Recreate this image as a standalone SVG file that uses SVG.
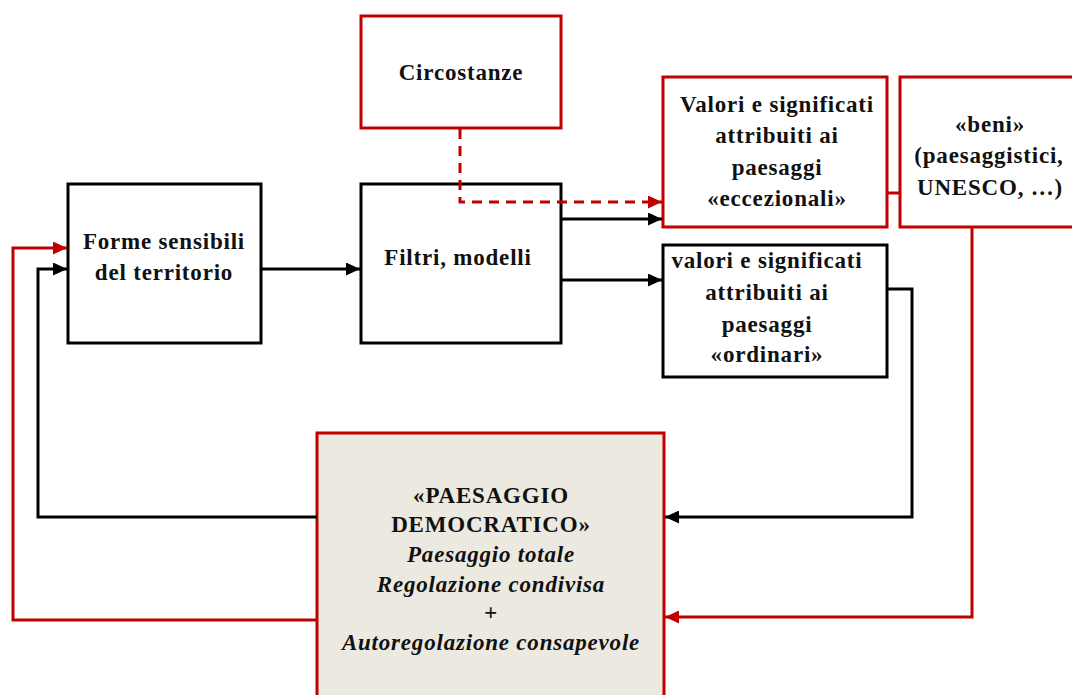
<svg xmlns="http://www.w3.org/2000/svg" width="1072" height="695" viewBox="0 0 1072 695">
<defs>
<marker id="ab" viewBox="0 0 14 13" refX="14" refY="6.5" markerWidth="14" markerHeight="13" markerUnits="userSpaceOnUse" orient="auto"><path d="M0,0 L14,6.5 L0,13 Z" fill="#000"/></marker>
<marker id="ar" viewBox="0 0 14 13" refX="14" refY="6.5" markerWidth="14" markerHeight="13" markerUnits="userSpaceOnUse" orient="auto"><path d="M0,0 L14,6.5 L0,13 Z" fill="#C00000"/></marker>
</defs>
<style>
.bk{fill:#fff;stroke:#000;stroke-width:3}
.rd{fill:#fff;stroke:#C00000;stroke-width:3}
.t{font-family:"Liberation Serif",serif;font-weight:bold;font-size:23px;letter-spacing:0.8px;fill:#111;text-anchor:middle}
.i{font-style:italic}
.cb{fill:none;stroke:#000;stroke-width:3}
.cr{fill:none;stroke:#C00000;stroke-width:3}
</style>
<g id="forme">
<rect class="bk" x="68" y="184" width="193" height="159"/>
<text class="t" x="164" y="249">Forme sensibili</text>
<text class="t" x="164" y="280">del territorio</text>
</g>
<g id="circostanze">
<rect class="rd" x="361" y="16" width="200" height="112"/>
<text class="t" x="461" y="80">Circostanze</text>
</g>
<g id="filtri">
<rect class="bk" x="361" y="184" width="200" height="159"/>
<text class="t" x="458" y="265">Filtri, modelli</text>
</g>
<g id="eccezionali">
<rect class="rd" x="663" y="77" width="224" height="150"/>
<text class="t" x="777" y="112">Valori e significati</text>
<text class="t" x="777" y="143">attribuiti ai</text>
<text class="t" x="777" y="175">paesaggi</text>
<text class="t" x="777" y="206">«eccezionali»</text>
</g>
<g id="beni">
<rect class="rd" x="900" y="77" width="180" height="150"/>
<text class="t" x="990" y="132">«beni»</text>
<text class="t" x="989" y="163">(paesaggistici,</text>
<text class="t" x="990" y="195">UNESCO, …)</text>
</g>
<g id="ordinari">
<rect class="bk" x="663" y="245" width="224" height="132"/>
<text class="t" x="767" y="268">valori e significati</text>
<text class="t" x="767" y="300">attribuiti ai</text>
<text class="t" x="767" y="332">paesaggi</text>
<text class="t" x="767" y="362">«ordinari»</text>
</g>
<g id="democratico">
<rect x="317" y="433" width="347" height="280" fill="#ECE9E0" stroke="#C00000" stroke-width="3"/>
<text class="t" x="491" y="503">«PAESAGGIO</text>
<text class="t" x="491" y="532">DEMOCRATICO»</text>
<text class="t i" x="491" y="562">Paesaggio totale</text>
<text class="t i" x="491" y="592">Regolazione condivisa</text>
<text class="t i" x="491" y="620">+</text>
<text class="t i" x="491" y="650">Autoregolazione consapevole</text>
</g>
<g id="connectors">
<path class="cb" d="M261,269 L360,269" marker-end="url(#ab)"/>
<path class="cr" d="M460,129 L460,202 L662,202" stroke-dasharray="10,7" marker-end="url(#ar)"/>
<path class="cb" d="M561,219 L662,219" marker-end="url(#ab)"/>
<path class="cb" d="M561,280 L662,280" marker-end="url(#ab)"/>
<path class="cr" d="M887,193 L900,193"/>
<path class="cb" d="M887,289 L912,289 L912,517 L665,517" marker-end="url(#ab)"/>
<path class="cr" d="M972,227 L972,617 L665,617" marker-end="url(#ar)"/>
<path class="cb" d="M317,517 L38,517 L38,269 L67,269" marker-end="url(#ab)"/>
<path class="cr" d="M317,620 L13,620 L13,248 L67,248" marker-end="url(#ar)"/>
</g>
</svg>
